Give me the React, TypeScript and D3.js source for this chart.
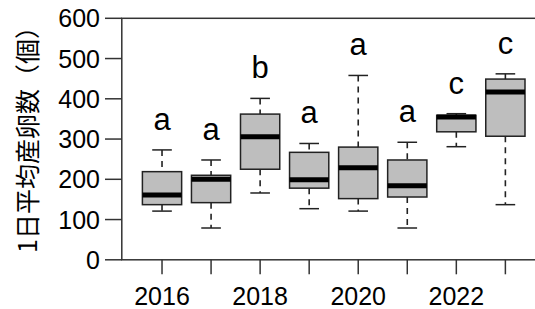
import React from "react";
import * as d3 from "d3";

const years = ["2016", "2017", "2018", "2019", "2020", "2021", "2022", "2023"];
const whiskerLow = [121, 79, 166, 127, 121, 79, 281, 137];
const q1 = [137, 142, 225, 178, 152, 156, 318, 307];
const medians = [161, 200, 306, 199, 229, 184, 355, 417];
const q3 = [219, 210, 362, 267, 280, 248, 359, 449];
const whiskerHigh = [273, 248, 401, 289, 458, 292, 363, 462];
const groupLetters = ["a", "a", "b", "a", "a", "a", "c", "c"];
const yTicks = [0, 100, 200, 300, 400, 500, 600];
const xLabelYears = ["2016", "2018", "2020", "2022"];
const yTitle = "1日平均産卵数（個）";

const W = 535;
const H = 309;

export default function App() {
  const y = d3.scaleLinear().domain([0, 600]).range([259.8, 18.3]);
  const x = d3.scaleLinear().domain([0.18, 8.82]).range([121.8, 545.6]);
  const step = x(2) - x(1);
  const bw = step * 0.8;
  const cap = bw * 0.5;
  const left = x(0.18);
  const right = x(8.82);
  const top = y(600);
  const bottom = y(0);
  const axisColor = "#333";
  const font = "'Liberation Sans', Arial, sans-serif";

  return (
    <svg
      width={W}
      height={H}
      style={{ position: "absolute", left: 0, top: 0, background: "#fff" }}
    >
      <rect
        x={left}
        y={top}
        width={right - left}
        height={bottom - top}
        fill="none"
        stroke={axisColor}
        strokeWidth={1.5}
      />
      {yTicks.map((t) => (
        <g key={t}>
          <line x1={105} x2={left} y1={y(t)} y2={y(t)} stroke={axisColor} strokeWidth={1.5} />
          <text
            x={100}
            y={y(t)}
            textAnchor="end"
            dominantBaseline="central"
            fontFamily={font}
            fontSize={25}
            fill="#000"
          >
            {t}
          </text>
        </g>
      ))}
      {years.map((yr, i) => (
        <line
          key={yr}
          x1={x(i + 1)}
          x2={x(i + 1)}
          y1={bottom}
          y2={bottom + 14.5}
          stroke={axisColor}
          strokeWidth={1.5}
        />
      ))}
      {years.map((yr, i) =>
        xLabelYears.includes(yr) ? (
          <text
            key={"l" + yr}
            x={x(i + 1)}
            y={305}
            textAnchor="middle"
            fontFamily={font}
            fontSize={25}
            fill="#000"
          >
            {yr}
          </text>
        ) : null
      )}
      <text
        transform={`translate(37,133.5) rotate(-90)`}
        textAnchor="middle"
        fontFamily="'Noto Sans CJK JP', sans-serif"
        fontSize={25}
        fill="#000"
      >
        {yTitle}
      </text>
      {years.map((yr, i) => {
        const cx = x(i + 1);
        return (
          <g key={"b" + yr}>
            <line
              x1={cx}
              x2={cx}
              y1={y(whiskerHigh[i])}
              y2={y(q3[i])}
              stroke="#222"
              strokeWidth={1.6}
              strokeDasharray="6,5"
            />
            <line
              x1={cx}
              x2={cx}
              y1={y(q1[i])}
              y2={y(whiskerLow[i])}
              stroke="#222"
              strokeWidth={1.6}
              strokeDasharray="6,5"
            />
            <line
              x1={cx - cap / 2}
              x2={cx + cap / 2}
              y1={y(whiskerHigh[i])}
              y2={y(whiskerHigh[i])}
              stroke="#222"
              strokeWidth={1.5}
            />
            <line
              x1={cx - cap / 2}
              x2={cx + cap / 2}
              y1={y(whiskerLow[i])}
              y2={y(whiskerLow[i])}
              stroke="#222"
              strokeWidth={1.5}
            />
            <rect
              x={cx - bw / 2}
              y={y(q3[i])}
              width={bw}
              height={y(q1[i]) - y(q3[i])}
              fill="#bebebe"
              stroke="#222"
              strokeWidth={1.5}
            />
            <line
              x1={cx - bw / 2}
              x2={cx + bw / 2}
              y1={y(medians[i])}
              y2={y(medians[i])}
              stroke="#000"
              strokeWidth={5}
            />
            <text
              x={cx}
              y={y(whiskerHigh[i]) - 20}
              textAnchor="middle"
              fontFamily={font}
              fontSize={31}
              fill="#000"
            >
              {groupLetters[i]}
            </text>
          </g>
        );
      })}
    </svg>
  );
}
